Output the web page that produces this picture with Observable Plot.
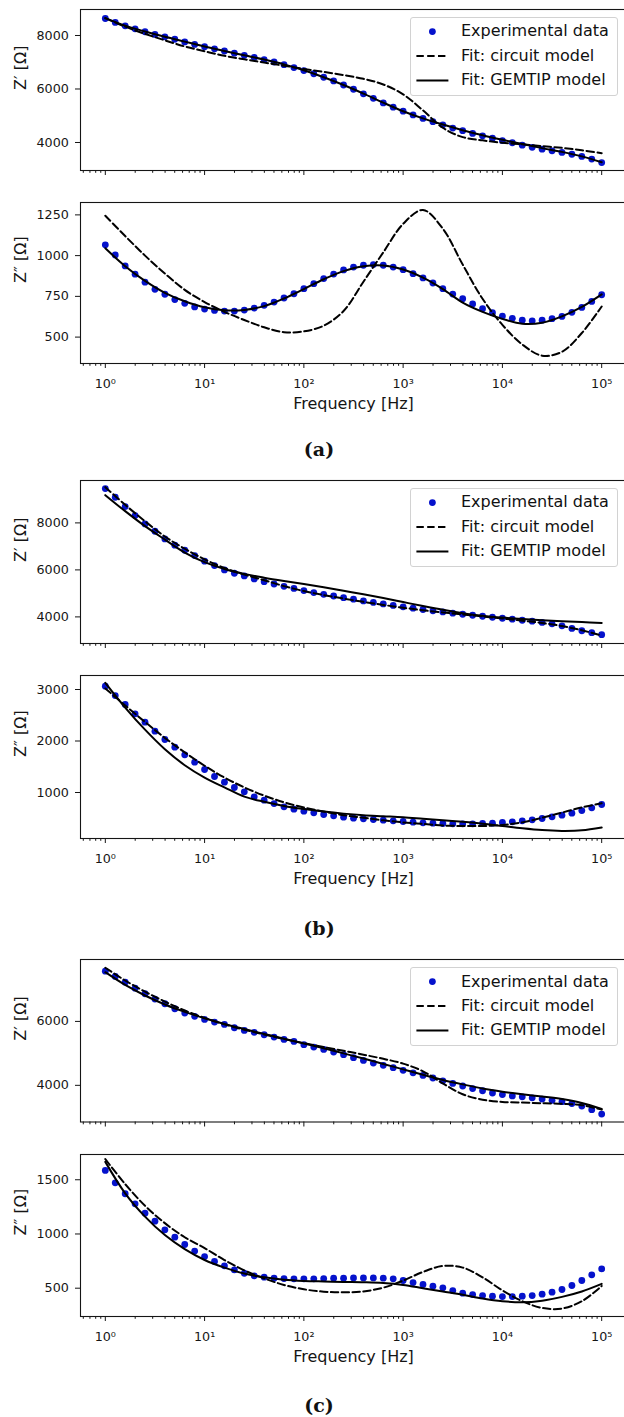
<!DOCTYPE html>
<html><head><meta charset="utf-8">
<script src="https://cdn.jsdelivr.net/npm/d3@7"></script>
<script src="https://cdn.jsdelivr.net/npm/@observablehq/plot@0.6"></script>
<style>
html,body{margin:0;padding:0;background:#fff;}
#root{position:relative;width:624px;height:1417px;overflow:hidden;background:#fff;}
.panel{position:absolute;left:0;}
.legend{position:absolute;left:409.8px;width:208px;height:79px;box-sizing:border-box;border:1px solid #d2d2d2;border-radius:3px;background:rgba(255,255,255,0.85);}
.legend svg{position:absolute;left:-1px;top:-1px;}
.lt{position:absolute;left:50.2px;transform:translateY(-50%);font-family:"DejaVu Sans",sans-serif;font-size:16px;line-height:1;color:#111;white-space:nowrap;}
.cap{position:absolute;transform:translate(-50%,-50%);font-family:"DejaVu Serif",serif;font-weight:bold;font-size:19px;color:#111;}
</style></head>
<body><div id="root"></div>
<script>
// ---------- data ----------
const expLogF = [0,0.1,0.2,0.3,0.4,0.5,0.6,0.7,0.8,0.9,1,1.1,1.2,1.3,1.4,1.5,1.6,1.7,1.8,1.9,2,2.1,2.2,2.3,2.4,2.5,2.6,2.7,2.8,2.9,3,3.1,3.2,3.3,3.4,3.5,3.6,3.7,3.8,3.9,4,4.1,4.2,4.3,4.4,4.5,4.6,4.7,4.8,4.9,5];
const fitLogF = [0,0.2,0.4,0.6,0.8,1,1.2,1.4,1.6,1.8,2,2.2,2.4,2.6,2.8,3,3.2,3.4,3.6,3.8,4,4.2,4.4,4.6,4.8,5];

const majorTicks = [1,10,100,1000,10000,100000];
const xTickLabels = ["10⁰","10¹","10²","10³","10⁴","10⁵"];
const minorTicks = [0.6,0.7,0.8,0.9,2,3,4,5,6,7,8,9,20,30,40,50,60,70,80,90,200,300,400,500,600,700,800,900,2000,3000,4000,5000,6000,7000,8000,9000,20000,30000,40000,50000,60000,70000,80000,90000];

const seriesNames = ["Experimental data","Fit: circuit model","Fit: GEMTIP model"];
const captions = ["(a)","(b)","(c)"];

// (a) Z'
const a1Exp = [8635,8490,8360,8250,8140,8040,7950,7860,7760,7665,7580,7500,7420,7340,7260,7180,7100,7010,6910,6800,6690,6570,6440,6300,6150,5990,5820,5650,5480,5320,5170,5030,4900,4780,4660,4540,4440,4340,4250,4160,4070,3990,3900,3820,3750,3690,3630,3560,3480,3380,3250];
const a1Circ = [8650,8330,8060,7820,7590,7410,7240,7110,6990,6870,6750,6640,6520,6380,6170,5800,5200,4550,4200,4080,3990,3930,3860,3800,3710,3600];
const a1Gem = [8650,8370,8150,7950,7770,7590,7420,7260,7100,6920,6700,6440,6150,5830,5490,5170,4900,4670,4460,4270,4100,3940,3790,3650,3480,3260];
// (a) Z''
const a2Exp = [1066,1004,937,886,837,793,763,730,707,685,672,664,660,660,666,678,695,715,740,766,797,828,859,887,912,930,941,945,941,930,914,889,863,832,797,764,736,703,674,650,629,615,604,600,604,613,627,652,682,719,760];
const a2Circ = [1245,1120,1000,890,790,715,655,605,560,530,535,570,660,840,1020,1195,1280,1165,945,735,575,455,386,410,525,688];
const a2Gem = [1045,935,845,772,720,683,665,667,690,737,795,855,905,935,940,915,865,795,712,655,612,582,588,627,685,762];
// (b) Z'
const b1Exp = [9461,9092,8695,8312,7957,7645,7319,7050,6837,6610,6369,6184,6000,5858,5745,5617,5500,5400,5300,5210,5121,5035,4960,4890,4820,4752,4680,4615,4553,4490,4430,4370,4315,4260,4210,4160,4113,4071,4028,3986,3943,3901,3858,3816,3765,3705,3620,3510,3410,3330,3245];
const b1Circ = [9520,8770,8070,7420,6900,6450,6080,5800,5560,5310,5100,4930,4780,4640,4510,4390,4280,4190,4105,4020,3930,3840,3740,3610,3430,3210];
const b1Gem = [9180,8500,7860,7290,6740,6330,6040,5830,5670,5530,5400,5260,5110,4960,4800,4630,4460,4300,4160,4050,3970,3910,3860,3820,3780,3745];
// (b) Z''
const b2Exp = [3065,2883,2709,2528,2366,2191,2029,1880,1731,1589,1447,1311,1201,1097,1013,916,851,786,722,676,638,605,573,547,521,502,489,476,463,450,437,424,411,405,398,392,392,392,398,405,418,430,450,469,495,527,560,599,650,702,767];
const b2Circ = [3020,2690,2370,2060,1780,1520,1290,1100,940,810,710,630,560,510,460,420,390,360,350,350,370,420,510,610,710,790];
const b2Gem = [3130,2650,2220,1840,1530,1290,1100,920,820,740,680,630,590,560,540,520,490,460,430,395,350,305,270,255,265,320];
// (c) Z'
const c1Exp = [7572,7406,7229,7041,6865,6700,6552,6396,6260,6160,6063,5979,5906,5802,5719,5660,5583,5510,5437,5375,5271,5198,5125,5041,4958,4864,4781,4698,4625,4552,4470,4390,4310,4230,4140,4060,3980,3900,3830,3760,3710,3670,3640,3610,3570,3530,3490,3430,3350,3240,3100];
const c1Circ = [7680,7280,6930,6620,6340,6110,5910,5740,5590,5450,5320,5200,5080,4960,4830,4680,4440,4060,3720,3550,3480,3460,3440,3420,3380,3240];
const c1Gem = [7540,7140,6810,6530,6300,6100,5920,5760,5610,5460,5310,5160,5000,4840,4670,4500,4330,4170,4030,3900,3800,3720,3650,3570,3450,3260];
// (c) Z''
const c2Exp = [1586,1472,1371,1278,1192,1118,1038,971,903,842,792,746,706,669,638,614,602,592,589,586,586,586,589,592,592,595,595,595,592,586,571,552,534,518,503,478,454,441,432,426,423,423,426,432,445,463,488,525,571,623,678];
const c2Circ = [1690,1460,1260,1100,970,870,760,665,590,530,490,468,462,470,505,570,650,705,690,600,480,380,318,312,380,520];
const c2Gem = [1665,1375,1160,990,860,760,690,635,600,578,567,562,558,555,548,530,500,470,440,405,380,370,385,420,470,540];

// ---------- layout ----------
const expColor = "#0512cc";
const ink = "#151515";
const panels = [
  {frame:[8.5,169.5],  yDomain:[2953,8972], yTicks:[4000,6000,8000], yLabel:"Z′ [Ω]", exp:a1Exp, circ:a1Circ, gem:a1Gem, bottom:false},
  {frame:[201.5,362.5],yDomain:[338,1326],  yTicks:[500,750,1000,1250], yLabel:"Z″ [Ω]", exp:a2Exp, circ:a2Circ, gem:a2Gem, bottom:true, cap:0, capY:449},
  {frame:[479.5,642.5],yDomain:[2868,9804], yTicks:[4000,6000,8000], yLabel:"Z′ [Ω]", exp:b1Exp, circ:b1Circ, gem:b1Gem, bottom:false},
  {frame:[674.5,837.5],yDomain:[107,3272],  yTicks:[1000,2000,3000], yLabel:"Z″ [Ω]", exp:b2Exp, circ:b2Circ, gem:b2Gem, bottom:true, cap:1, capY:928},
  {frame:[959,1121.5], yDomain:[2853,7937], yTicks:[4000,6000], yLabel:"Z′ [Ω]", exp:c1Exp, circ:c1Circ, gem:c1Gem, bottom:false},
  {frame:[1154,1316],  yDomain:[239,1733],  yTicks:[500,1000,1500], yLabel:"Z″ [Ω]", exp:c2Exp, circ:c2Circ, gem:c2Gem, bottom:true, cap:2, capY:1405}
];

const root = document.getElementById("root");
const rows = (lf, vals) => lf.map((l, i) => ({f: Math.pow(10, l), v: vals[i]}));

panels.forEach(p => {
  const mt = 4;
  const mb = p.bottom ? 62 : 12;
  const fh = p.frame[1] - p.frame[0];
  const height = mt + fh + mb;
  const svg = Plot.plot({
    width: 626,
    height,
    marginLeft: 80,
    marginRight: 0,
    marginTop: mt,
    marginBottom: mb,
    x: {type: "log", domain: [Math.pow(10, -0.25), Math.pow(10, 5.25)]},
    y: {domain: p.yDomain},
    style: {fontFamily: "DejaVu Sans, sans-serif", fontSize: "12.7px", color: ink, background: "transparent", maxWidth: "none", overflow: "visible"},
    marks: [
      Plot.axisY({ticks: p.yTicks, tickSize: 5, tickPadding: 6.7, label: null, fontSize: 12.7, tickFormat: d => String(d)}),
      Plot.axisX({ticks: majorTicks, tickSize: 5, tickPadding: 10, label: null, fontSize: 12.7,
                  tickFormat: p.bottom ? (d => xTickLabels[majorTicks.indexOf(d)]) : (() => "")}),
      Plot.axisX({ticks: minorTicks, tickSize: 2.8, label: null, tickFormat: () => ""}),
      Plot.text([p.yLabel], {frameAnchor: "left", dx: -60, rotate: -90, text: d => d, fontSize: 16, fill: ink}),
      p.bottom ? Plot.text(["Frequency [Hz]"], {frameAnchor: "bottom", dy: 40, lineAnchor: "middle", text: d => d, fontSize: 16, fill: ink}) : null,
      Plot.dot(rows(expLogF, p.exp), {x: "f", y: "v", r: 3.4, fill: expColor, stroke: "none"}),
      Plot.line(rows(fitLogF, p.circ), {x: "f", y: "v", stroke: "#000", strokeWidth: 2, strokeDasharray: "7.4,3.4", curve: "catmull-rom"}),
      Plot.line(rows(fitLogF, p.gem), {x: "f", y: "v", stroke: "#000", strokeWidth: 2, curve: "catmull-rom"}),
      Plot.frame({stroke: ink, strokeWidth: 1.1})
    ]
  });
  svg.classList.add("panel");
  svg.style.top = (p.frame[0] - mt) + "px";
  root.appendChild(svg);

  if (!p.bottom) {
    const box = document.createElement("div");
    box.className = "legend";
    box.style.top = (p.frame[0] + 8) + "px";
    box.innerHTML =
      '<svg width="208" height="79">' +
      '<circle cx="22.4" cy="14.6" r="3.4" fill="' + expColor + '"/>' +
      '<line x1="6.4" x2="38.4" y1="39" y2="39" stroke="#000" stroke-width="2" stroke-dasharray="7.4,3.4"/>' +
      '<line x1="6.4" x2="38.4" y1="63.4" y2="63.4" stroke="#000" stroke-width="2"/>' +
      '</svg>' +
      seriesNames.map((n, i) => '<div class="lt" style="top:' + (13.6 + 24.4 * i) + 'px">' + n + '</div>').join("");
    root.appendChild(box);
  } else {
    const cap = document.createElement("div");
    cap.className = "cap";
    cap.style.left = "319px";
    cap.style.top = p.capY + "px";
    cap.textContent = captions[p.cap];
    root.appendChild(cap);
  }
});
</script>
</body></html>
